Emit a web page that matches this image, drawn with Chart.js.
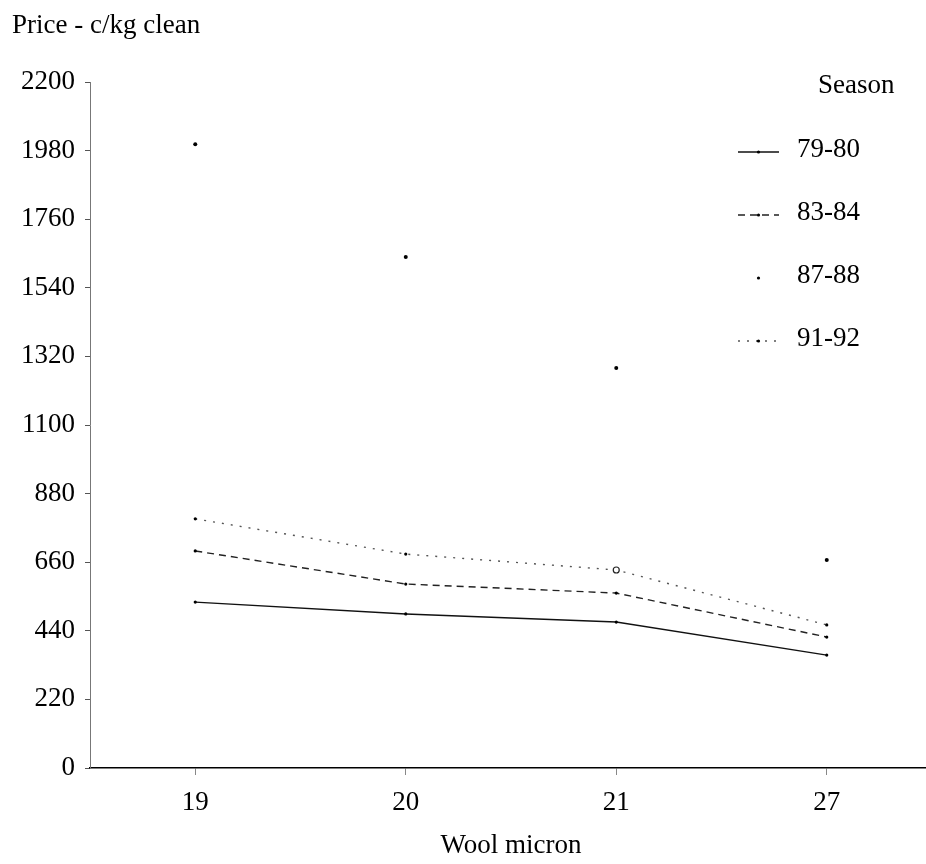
<!DOCTYPE html>
<html lang="en">
<head>
  <meta charset="UTF-8" />
  <title>Wool price by micron</title>
  <script src="https://cdn.jsdelivr.net/npm/chart.js@4.4.0/dist/chart.umd.min.js"></script>
  <style>
    * { margin: 0; padding: 0; box-sizing: border-box; }
    html, body { background: #fff; overflow: hidden; width: 926px; height: 864px; }
    canvas { display: block; }
  </style>
</head>
<body>
  <canvas id="priceChart" width="936" height="864"></canvas>

  <script>
    const microns = ["19", "20", "21", "27"];
    const seasons = ["79-80", "83-84", "87-88", "91-92"];
    const price7980 = [532, 494, 468, 362];
    const price8384 = [696, 590, 561, 420];
    const price8788 = [2000, 1639, 1283, 667];
    const price9192 = [799, 686, 635, 459];
    const priceMax = 2200;
    const priceStep = 220;

    const serif = "'Liberation Serif', 'DejaVu Serif', serif";
    const fontPx = 27;

    // axis caption and the "Season" key, drawn straight onto the canvas
    const labelsPlugin = {
      id: "seasonKey",
      afterDraw(chart) {
        const ctx = chart.ctx;
        ctx.save();
        ctx.fillStyle = "#000";
        ctx.font = fontPx + "px " + serif;
        ctx.textBaseline = "middle";
        ctx.textAlign = "left";
        ctx.fillText("Price - c/kg clean", 12, 26);
        ctx.fillText("Season", 818, 86);

        chart.data.datasets.forEach((ds, i) => {
          const y = 150 + i * 63;
          ctx.fillStyle = "#000";
          ctx.fillText(ds.label, 797, y);
          const x0 = 738, x1 = 779, xm = (x0 + x1) / 2;
          if (ds.showLine !== false) {
            ctx.beginPath();
            ctx.setLineDash(ds.borderDash || []);
            ctx.strokeStyle = ds.borderColor;
            ctx.lineWidth = ds.borderWidth;
            ctx.moveTo(x0, y + 2);
            ctx.lineTo(x1, y + 2);
            ctx.stroke();
            ctx.setLineDash([]);
          }
          ctx.beginPath();
          ctx.fillStyle = "#000";
          ctx.arc(xm, y + 2, 1.6, 0, Math.PI * 2);
          ctx.fill();
        });
        ctx.restore();
      }
    };

    new Chart(document.getElementById("priceChart"), {
      type: "line",
      data: {
        labels: microns,
        datasets: [
          {
            label: seasons[0],
            data: price7980,
            borderColor: "#111",
            borderWidth: 1.4,
            pointRadius: 1.6,
            pointBackgroundColor: "#000",
            pointBorderWidth: 0
          },
          {
            label: seasons[1],
            data: price8384,
            borderColor: "#222",
            borderWidth: 1.4,
            borderDash: [7, 5],
            pointRadius: 1.6,
            pointBackgroundColor: "#000",
            pointBorderWidth: 0
          },
          {
            label: seasons[2],
            data: price8788,
            showLine: false,
            borderColor: "#000",
            pointRadius: 2,
            pointBackgroundColor: "#000",
            pointBorderWidth: 0
          },
          {
            label: seasons[3],
            data: price9192,
            borderColor: "#555",
            borderWidth: 1.4,
            borderDash: [2, 7],
            pointRadius: [1.6, 1.6, 3, 1.6],
            pointBackgroundColor: ["#000", "#000", "#fff", "#000"],
            pointBorderColor: "#222",
            pointBorderWidth: [0, 0, 1.2, 0]
          }
        ]
      },
      options: {
        responsive: false,
        animation: false,
        layout: { padding: { top: 82, right: 0, left: 0, bottom: 0 } },
        plugins: {
          legend: { display: false },
          tooltip: { enabled: false }
        },
        scales: {
          x: {
            offset: true,
            afterFit(scale) { scale.height = 96; },
            grid: {
              offset: false,
              drawOnChartArea: false,
              drawTicks: true,
              tickLength: 7,
              color: "#888"
            },
            border: { display: true, color: "#000", width: 1.6 },
            ticks: {
              color: "#000",
              padding: 12,
              font: { family: serif, size: fontPx }
            },
            title: {
              display: true,
              text: "Wool micron",
              color: "#000",
              padding: { top: 0, bottom: 2 },
              font: { family: serif, size: fontPx }
            }
          },
          y: {
            min: 0,
            max: priceMax,
            afterFit(scale) { scale.width = 90; },
            grid: {
              drawOnChartArea: false,
              drawTicks: true,
              tickLength: 5,
              color: "#555"
            },
            border: { display: true, color: "#777", width: 1, dash: [5, 3] },
            ticks: {
              stepSize: priceStep,
              color: "#000",
              padding: 10,
              font: { family: serif, size: fontPx },
              callback: v => String(v)
            }
          }
        }
      },
      plugins: [labelsPlugin]
    });
  </script>
</body>
</html>
